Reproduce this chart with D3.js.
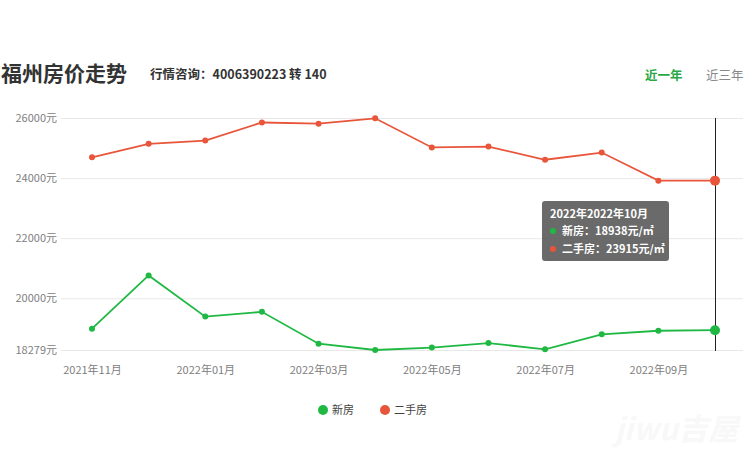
<!DOCTYPE html>
<html><head><meta charset="utf-8">
<script src="https://cdn.jsdelivr.net/npm/d3@7/dist/d3.min.js"></script>
<style>
body{margin:0;background:#fff;}
svg{display:block;font-family:"Microsoft YaHei","Noto Sans CJK SC","Noto Sans",sans-serif;}
</style></head>
<body><svg id="c" width="756" height="465"></svg>
<script>
const months = ["2021年11月","2021年12月","2022年01月","2022年02月","2022年03月","2022年04月","2022年05月","2022年06月","2022年07月","2022年08月","2022年09月","2022年10月"];
const newHouse = [18990,20760,19390,19550,18490,18279,18360,18510,18300,18800,18920,18938];
const secondHand = [24690,25140,25250,25850,25810,25990,25020,25050,24610,24850,23915,23915];
const yTicks = [18279,20000,22000,24000,26000];
const xTickLabels = ["2021年11月","2022年01月","2022年03月","2022年05月","2022年07月","2022年09月"];
const seriesNames = ["新房","二手房"];
const colors = ["#1fb843","#e8553a"];

const svg = d3.select("#c");
const x = d3.scalePoint().domain(months).range([92,715]);
const y = d3.scaleLinear().domain([18279,26000]).range([350,118]);

// watermark
svg.append("text").attr("x",738).attr("y",440).attr("text-anchor","end")
  .attr("font-size",30).attr("font-weight","bold").attr("font-style","italic")
  .attr("fill","#f8f8f8").text("jiwu吉屋");

// title
svg.append("text").attr("x",1).attr("y",81).attr("font-size",21).attr("font-weight","bold").attr("fill","#333").text("福州房价走势");
svg.append("text").attr("x",150).attr("y",79).attr("font-size",12.5).attr("font-weight","bold").attr("fill","#333").text("行情咨询：4006390223 转 140");
svg.append("text").attr("x",645).attr("y",80).attr("font-size",12.5).attr("font-weight","bold").attr("fill","#2aa845").text("近一年");
svg.append("text").attr("x",706).attr("y",80).attr("font-size",12.5).attr("fill","#888").text("近三年");

// grid + y axis
const yAxis = d3.axisLeft(y).tickValues(yTicks).tickSize(-(743-61)).tickFormat(d=>d+"元").tickPadding(4);
const gy = svg.append("g").attr("transform","translate(61,0)").call(yAxis);
gy.select(".domain").remove();
gy.selectAll(".tick line").attr("stroke","#e8e8e8");
gy.selectAll(".tick text").attr("fill","#808080").attr("font-size",11).attr("font-family","Microsoft YaHei, Noto Sans CJK SC, sans-serif");

// x axis
const xAxis = d3.axisBottom(x).tickValues(xTickLabels).tickSize(0).tickPadding(14);
const gx = svg.append("g").attr("transform","translate(0,352)").call(xAxis);
gx.select(".domain").remove();
gx.selectAll(".tick text").attr("fill","#808080").attr("font-size",11).attr("font-family","Microsoft YaHei, Noto Sans CJK SC, sans-serif");

// hover line
const last = months[months.length-1];
const lx = Math.round(x(last)) + 0.5;
svg.append("line").attr("x1",lx).attr("x2",lx).attr("y1",118).attr("y2",351).attr("stroke","#222").attr("stroke-width",1);

const data = [newHouse, secondHand];
const line = d3.line().x((d,i)=>x(months[i])).y(d=>y(d));
data.forEach((vals,k)=>{
  svg.append("path").datum(vals).attr("d",line).attr("fill","none").attr("stroke",colors[k]).attr("stroke-width",1.8);
  svg.selectAll(null).data(vals).enter().append("circle")
    .attr("cx",(d,i)=>x(months[i])).attr("cy",d=>y(d))
    .attr("r",(d,i)=>i===vals.length-1?5:3).attr("fill",colors[k]);
});

// tooltip
const tg = svg.append("g").attr("transform","translate(542,201)");
tg.append("rect").attr("width",127).attr("height",60).attr("rx",3).attr("fill","rgba(80,80,80,0.85)");
tg.append("text").attr("x",8).attr("y",17).attr("fill","#fff").attr("font-size",11).attr("font-weight","bold").text("2022年"+last);
const tipVals = [newHouse[newHouse.length-1], secondHand[secondHand.length-1]];
seriesNames.forEach((n,k)=>{
  tg.append("circle").attr("cx",11).attr("cy",30+k*18).attr("r",3).attr("fill",colors[k]);
  tg.append("text").attr("x",20).attr("y",34+k*18).attr("fill","#fff").attr("font-size",11).attr("font-weight","bold").text(n+"："+tipVals[k]+"元/㎡");
});

// legend
const legX = [323,385];
seriesNames.forEach((n,k)=>{
  svg.append("circle").attr("cx",legX[k]).attr("cy",410).attr("r",5).attr("fill",colors[k]);
  svg.append("text").attr("x",legX[k]+9).attr("y",414).attr("font-size",11).attr("fill","#444").text(n);
});
</script></body></html>
